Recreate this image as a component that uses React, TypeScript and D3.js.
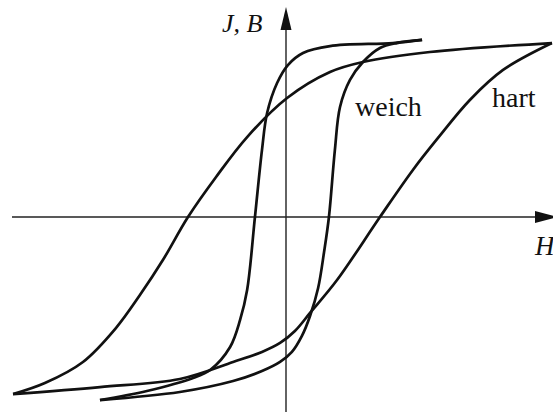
import React from "react";
import * as d3 from "d3";

// Hysteresis loops J(H): each branch listed as [H, J] pairs (arbitrary units)
const hardDescending: [number, number][] = [
  [9.85, 1.338], [5.33, 1.269], [2.85, 1.192], [1.63, 1.115], [0.04, 0.915],
  [-1.44, 0.615], [-2.59, 0.308], [-3.63, 0.0], [-4.56, -0.331], [-5.41, -0.6],
  [-6.3, -0.854], [-7.52, -1.115], [-8.93, -1.277], [-10.11, -1.362],
];
const hardAscending: [number, number][] = [
  [-10.11, -1.362], [-6.89, -1.308], [-3.93, -1.246], [-1.96, -1.115], [-0.89, -1.038],
  [-0.22, -0.969], [0.33, -0.877], [0.89, -0.738], [1.89, -0.485], [3.48, 0.0],
  [4.7, 0.362], [5.63, 0.608], [6.81, 0.9], [8.04, 1.131], [9.85, 1.338],
];
const softDescending: [number, number][] = [
  [5.04, 1.362], [3.96, 1.338], [1.63, 1.315], [0.63, 1.262], [0.07, 1.169],
  [-0.33, 1.031], [-0.7, 0.8], [-0.89, 0.515], [-1.15, 0.0], [-1.44, -0.562],
  [-1.7, -0.792], [-2.07, -1.0], [-2.81, -1.177], [-3.44, -1.238], [-5.15, -1.338],
  [-6.89, -1.408],
];
const softAscending: [number, number][] = [
  [-6.89, -1.408], [-3.93, -1.346], [-1.96, -1.262], [-0.89, -1.185], [-0.22, -1.115],
  [0.22, -1.038], [0.59, -0.915], [0.89, -0.762], [1.19, -0.546], [1.41, -0.269],
  [1.59, 0.0], [1.81, 0.515], [2.0, 0.846], [2.37, 1.054], [2.85, 1.192],
  [3.48, 1.3], [4.11, 1.338], [5.04, 1.362],
];

const axisLabelY = "J, B";
const axisLabelX = "H";
const loopLabels = [
  { text: "weich", x: 355, y: 116 },
  { text: "hart", x: 492, y: 107 },
];

const W = 553;
const H = 412;

export default function App() {
  const x = d3.scaleLinear().domain([-10, 10]).range([16, 556]);
  const y = d3.scaleLinear().domain([-1.5, 1.5]).range([412, 22]);

  const line = d3
    .line<[number, number]>()
    .x((d) => x(d[0]))
    .y((d) => y(d[1]))
    .curve(d3.curveCatmullRom.alpha(0.5));

  const branches = [hardDescending, hardAscending, softDescending, softAscending];

  const x0 = x(0);
  const y0 = y(0);
  const serif = "'Liberation Serif', 'Times New Roman', Times, serif";

  return (
    <svg
      width={W}
      height={H}
      style={{ position: "fixed", left: 0, top: 0, background: "#fff" }}
    >
      {/* axes */}
      <line x1={12} y1={y0} x2={540} y2={y0} stroke="#222" strokeWidth={1.4} />
      <polygon
        points={`${535},${y0 - 6} ${558},${y0} ${535},${y0 + 6}`}
        fill="#111"
      />
      <line x1={x0} y1={H} x2={x0} y2={26} stroke="#222" strokeWidth={1.4} />
      <polygon
        points={`${x0 - 5.5},30 ${x0},7 ${x0 + 5.5},30`}
        fill="#111"
      />

      {/* loops */}
      {branches.map((b, i) => (
        <path
          key={i}
          d={line(b) ?? ""}
          fill="none"
          stroke="#111"
          strokeWidth={2.7}
          strokeLinecap="butt"
          strokeLinejoin="round"
        />
      ))}

      {/* labels */}
      <text x={222} y={32} fontFamily={serif} fontStyle="italic" fontSize={26} fill="#111">
        {axisLabelY}
      </text>
      <text x={535} y={255} fontFamily={serif} fontStyle="italic" fontSize={27} fill="#111">
        {axisLabelX}
      </text>
      {loopLabels.map((l) => (
        <text key={l.text} x={l.x} y={l.y} fontFamily={serif} fontSize={28} fill="#111">
          {l.text}
        </text>
      ))}
    </svg>
  );
}
